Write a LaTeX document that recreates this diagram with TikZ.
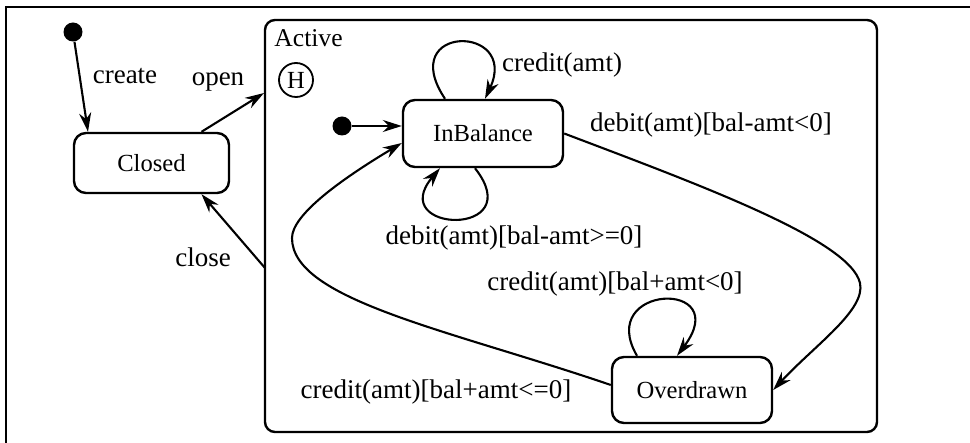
\documentclass[tikz,border=0pt]{standalone}
\usepackage{fontspec}
\setmainfont{Liberation Serif}
\usetikzlibrary{arrows.meta}
\begin{document}
\begin{tikzpicture}[x=0.5pt,y=-0.5pt,
  state/.style={draw, line width=1.2pt, rounded corners=6pt, minimum width=80pt,
    minimum height=33pt, inner sep=0pt, font=\fontsize{12.3}{14}\selectfont},
  lbl/.style={inner sep=0pt, font=\fontsize{13.5}{16}\selectfont},
  trans/.style={line width=1.05pt, -{Stealth[length=9.5pt,width=6pt]}},
  startdot/.style={circle, fill=black, minimum size=9.5pt, inner sep=0pt}]
\useasboundingbox (0,0) rectangle (970,443);
% page frame
\draw[line width=1.2pt] (6,443) -- (6,7) -- (970,7);

% composite state Active
\node[draw, line width=1.2pt, rounded corners=5pt, minimum width=306pt,
  minimum height=206pt, inner sep=0pt] (active) at (571,226) {};
\node[anchor=west, inner sep=0pt, font=\fontsize{12.8}{15}\selectfont] (activelbl) at (274,38) {Active};
\node[circle, draw, line width=0.9pt, minimum size=17pt, inner sep=0pt,
  font=\fontsize{12.3}{14}\selectfont] (hist) at (296,80) {H};

% states
\node[startdot] (init) at (73,32) {};
\node[state, minimum width=77.5pt, minimum height=30pt] (closed) at (151.5,163) {Closed};
\node[state, minimum height=33.5pt] (inbal) at (483,133.5) {InBalance};
\node[state] (over) at (692,390) {Overdrawn};
\node[startdot] (init2) at (342,126) {};

\coordinate (openend) at (264,93);
\coordinate (closestart) at (265,268);

% transitions
\draw[trans] (init) -- ([xshift=-31.75pt]closed.north);
\draw[trans] ([xshift=25pt]closed.north) -- (openend);
\draw[trans] (closestart) -- ([xshift=25pt]closed.south);
\draw[trans] (init2) -- ([yshift=3.75pt]inbal.west);

% self loops
\draw[trans] ([xshift=-19pt]inbal.north) .. controls +(-50,-75) and +(35,-75) .. ([xshift=1pt]inbal.north);
\draw[trans] ([xshift=-4pt]inbal.south) .. controls +(55,70) and +(-55,65) .. ([xshift=-21.5pt]inbal.south);
\draw[trans] ([xshift=-27.5pt]over.north) .. controls +(-42,-72) and +(58,-77) .. ([xshift=-7.5pt]over.north);

% InBalance <-> Overdrawn
\draw[trans] (inbal.east) .. controls (700,185) and (850,240) .. (860,283)
  .. controls (866,310) and (815,345) .. (over.east);
\draw[trans] ([yshift=2.5pt]over.west) .. controls (450,330) and (292,300) .. (292,238)
  .. controls (292,215) and (340,180) .. ([yshift=-4.75pt]inbal.west);

% labels
\node[lbl] (lcreate) at (125,76) {create};
\node[lbl] (lopen) at (218,82) {open};
\node[lbl] (lclose) at (203,257) {close};
\node[lbl] (lcr1) at (562,65) {credit(amt)};
\node[lbl] (ldeb1) at (711,125) {debit(amt)[bal-amt<0]};
\node[lbl] (ldeb2) at (514,238) {debit(amt)[bal-amt>=0]};
\node[lbl] (lcr2) at (615,284) {credit(amt)[bal+amt<0]};
\node[lbl] (lcr3) at (436,392) {credit(amt)[bal+amt<=0]};
\end{tikzpicture}
\end{document}
